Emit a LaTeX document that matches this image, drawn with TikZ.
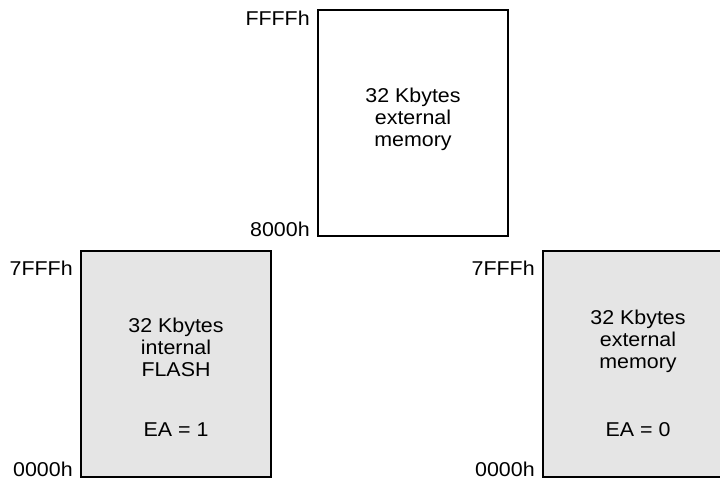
\documentclass[tikz,border=0pt]{standalone}
\usepackage{fontspec}
\setmainfont{Liberation Sans}[FakeStretch=1.07]
\usetikzlibrary{calc}

\begin{document}
\begin{tikzpicture}[x=1pt,y=-1pt,
  every node/.style={font=\fontsize{20}{22}\selectfont},
  membox/.style={draw, line width=2.2pt, minimum width=190pt, minimum height=226pt, inner sep=0pt},
  boxtext/.style={align=center, inner sep=0pt},
  addr/.style={inner sep=0pt}]
\useasboundingbox (0,0) rectangle (720,479);

% the three memory blocks
\node[membox, fill=white] (extmem) at (413,123) {};
\node[membox, fill=gray!20] (flash) at (176,364) {};
\node[membox, fill=gray!20] (extlow) at (638,364) {};

% block texts
\node[boxtext] (extmem-txt) at ($(extmem.north)+(0,110)$) {32 Kbytes\\external\\memory};
\node[boxtext] (flash-txt) at ($(flash.north)+(0,97)$) {32 Kbytes\\internal\\FLASH};
\node[boxtext] (flash-ea) at ($(flash.north)+(0,180)$) {EA = 1};
\node[boxtext] (extlow-txt) at ($(extlow.north)+(0,91)$) {32 Kbytes\\external\\memory};
\node[boxtext] (extlow-ea) at ($(extlow.north)+(0,180)$) {EA = 0};

% addresses
\node[addr, anchor=north east] (extmem-hi) at ($(extmem.north west)+(-7,2)$) {FFFFh};
\node[addr, anchor=base east] (extmem-lo) at ($(extmem.south west)+(-7,-1)$) {8000h};
\node[addr, anchor=north east] (flash-hi) at ($(flash.north west)+(-7,11)$) {7FFFh};
\node[addr, anchor=base east] (flash-lo) at ($(flash.south west)+(-7,-2)$) {0000h};
\node[addr, anchor=north east] (extlow-hi) at ($(extlow.north west)+(-7,11)$) {7FFFh};
\node[addr, anchor=base east] (extlow-lo) at ($(extlow.south west)+(-7,-2)$) {0000h};
\end{tikzpicture}
\end{document}
